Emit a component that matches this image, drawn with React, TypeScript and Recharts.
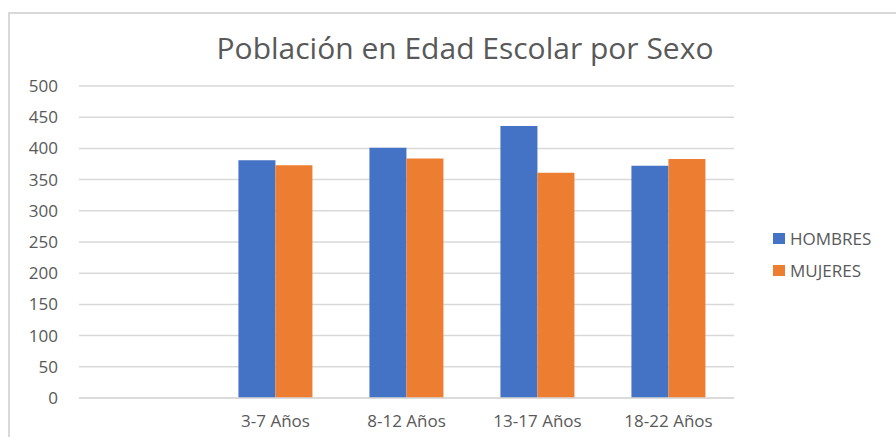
import { BarChart, Bar, XAxis, YAxis, CartesianGrid } from "recharts";

const categories = ["", "3-7 Años", "8-12 Años", "13-17 Años", "18-22 Años"];
const hombres = [null, 381, 401, 436, 372];
const mujeres = [null, 373, 384, 361, 383];
const yTicks = [0, 50, 100, 150, 200, 250, 300, 350, 400, 450, 500];
const series = [
  { key: "HOMBRES", color: "#4472C4" },
  { key: "MUJERES", color: "#ED7D31" },
];

const data = categories.map((c, i) => ({ name: c, HOMBRES: hombres[i], MUJERES: mujeres[i] }));

const FONT = "'Open Sans', 'Noto Sans', sans-serif";
const TEXT = "#595959";

export default function App() {
  return (
    <div style={{ position: "absolute", left: 0, top: 0, width: 896, height: 437, background: "#fff", overflow: "hidden" }}>
      <div style={{ position: "absolute", left: 8, top: 12, width: 900, height: 440, borderLeft: "2px solid #d9d9d9", borderTop: "2px solid #d9d9d9" }} />
      <div style={{ position: "absolute", left: 0, width: 930, top: 27, textAlign: "center", fontFamily: FONT, fontSize: 30, color: TEXT }}>
        Población en Edad Escolar por Sexo
      </div>
      <BarChart
        width={896}
        height={437}
        data={data}
        margin={{ top: 86, right: 162, bottom: 0, left: 0 }}
        barGap={0}
        barCategoryGap="21.7%"
        style={{ position: "absolute", left: 0, top: 0 }}
      >
        <CartesianGrid vertical={false} stroke="#d9d9d9" strokeWidth={1.5} />
        <XAxis
          dataKey="name"
          height={39}
          tickLine={false}
          tickSize={0}
          tickMargin={17}
          axisLine={{ stroke: "#d9d9d9", strokeWidth: 1.5 }}
          tick={{ fill: TEXT, fontSize: 17, fontFamily: FONT }}
          interval={0}
        />
        <YAxis
          width={79}
          domain={[0, 500]}
          ticks={yTicks}
          tickLine={false}
          axisLine={false}
          tickSize={0}
          tickMargin={21}
          tick={{ fill: TEXT, fontSize: 17, fontFamily: FONT }}
        />
        {series.map((s) => (
          <Bar key={s.key} dataKey={s.key} fill={s.color} isAnimationActive={false} />
        ))}
      </BarChart>
      <div style={{ position: "absolute", left: 773, top: 222, fontFamily: FONT, fontSize: 17, color: TEXT }}>
        {series.map((s) => (
          <div key={s.key} style={{ display: "flex", alignItems: "center", height: 32 }}>
            <span style={{ width: 12, height: 11, background: s.color, marginRight: 5 }} />
            {s.key}
          </div>
        ))}
      </div>
    </div>
  );
}
